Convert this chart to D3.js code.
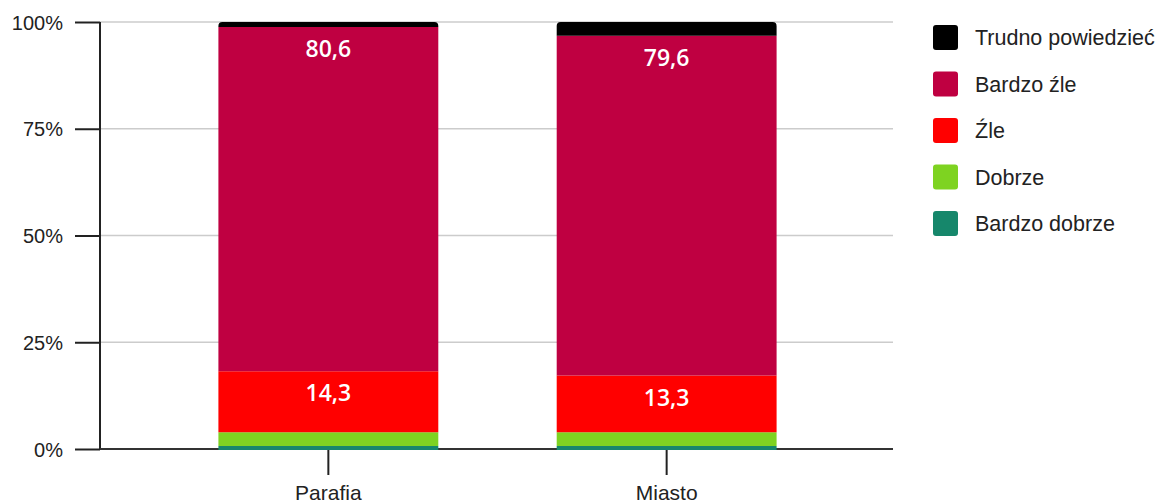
<!DOCTYPE html>
<html>
<head>
<meta charset="utf-8">
<script src="https://cdn.jsdelivr.net/npm/d3@7"></script>
<style>
  html, body { margin: 0; padding: 0; background: #fff; }
  svg { display: block; }
</style>
</head>
<body>
<svg id="chart" width="1158" height="504"></svg>
<script>
// Categories and stacked shares (percent), bottom to top
const categories = ["Parafia", "Miasto"];
const seriesNames = ["Bardzo dobrze", "Dobrze", "Źle", "Bardzo źle", "Trudno powiedzieć"];
const bardzoDobrze = [0.7, 0.7];
const dobrze = [3.2, 3.2];
const zle = [14.3, 13.3];
const bardzoZle = [80.6, 79.6];
const trudno = [1.2, 3.2];
const seriesColors = ["#16876b", "#7ed321", "#ff0000", "#bf0041", "#000000"];
const yTicks = [0, 25, 50, 75, 100];
const labelledSeries = ["Źle", "Bardzo źle"];

const seriesValues = [bardzoDobrze, dobrze, zle, bardzoZle, trudno];
const rows = categories.map((c, i) => {
  const r = { category: c };
  seriesNames.forEach((s, k) => { r[s] = seriesValues[k][i]; });
  return r;
});

const svg = d3.select("#chart");
const plotLeft = 100, plotRight = 895, plotTop = 22, plotBottom = 449;

const x = d3.scaleBand().domain(categories).range([plotLeft, plotRight])
  .paddingInner(0.35).paddingOuter(0.35);
const y = d3.scaleLinear().domain([0, 100]).range([plotBottom, plotTop]);
const color = d3.scaleOrdinal().domain(seriesNames).range(seriesColors);

// gridlines
svg.append("g")
  .selectAll("line")
  .data(yTicks.filter(t => t > 0))
  .join("line")
  .attr("x1", plotLeft).attr("x2", plotRight - 2)
  .attr("y1", d => y(d)).attr("y2", d => y(d))
  .attr("stroke", "#cccccc").attr("stroke-width", 1.6);

// y axis
const yAxis = d3.axisLeft(y).tickValues(yTicks).tickFormat(d => d + "%")
  .tickSize(25).tickPadding(12);
const yg = svg.append("g").attr("transform", `translate(${plotLeft},0)`).call(yAxis);
yg.select(".domain").attr("stroke", "#222").attr("stroke-width", 2)
  .attr("d", `M0,${plotTop}V${plotBottom}`);
yg.selectAll(".tick line").attr("stroke", "#222").attr("stroke-width", 2);
yg.selectAll(".tick text")
  .attr("font-family", "'Liberation Sans', Arial, sans-serif")
  .attr("font-size", 20).attr("fill", "#222")
  .attr("dy", "0.36em");

// x axis
const xAxis = d3.axisBottom(x).tickSize(26).tickPadding(10);
const xg = svg.append("g").attr("transform", `translate(0,${plotBottom})`).call(xAxis);
xg.select(".domain").attr("stroke", "#333").attr("stroke-width", 2)
  .attr("d", `M${plotLeft},0H${plotRight - 2}`);
xg.selectAll(".tick line").attr("stroke", "#222").attr("stroke-width", 2);
xg.selectAll(".tick text")
  .attr("font-family", "'Liberation Sans', Arial, sans-serif")
  .attr("font-size", 21).attr("fill", "#222");

// stacked bars, drawn over the baseline
const stack = d3.stack().keys(seriesNames);
const layers = stack(rows);

function roundedTop(x0, y0, w, h, r) {
  r = Math.min(r, h, w / 2);
  return `M${x0},${y0 + h}V${y0 + r}Q${x0},${y0} ${x0 + r},${y0}H${x0 + w - r}Q${x0 + w},${y0} ${x0 + w},${y0 + r}V${y0 + h}Z`;
}

const layerG = svg.append("g")
  .selectAll("g")
  .data(layers)
  .join("g")
  .attr("fill", d => color(d.key));

layerG.selectAll("path")
  .data(d => d.map(v => ({ key: d.key, v })))
  .join("path")
  .attr("d", d => {
    const x0 = x(d.v.data.category);
    const y0 = y(d.v[1]);
    const h = y(d.v[0]) - y(d.v[1]) + (d.v[0] === 0 ? 1 : 0);
    const isTop = d.key === seriesNames[seriesNames.length - 1];
    return roundedTop(x0, y0, x.bandwidth(), h, isTop ? 4 : 0);
  });

// value labels near the top of each labelled segment
const labelData = [];
layers.filter(l => labelledSeries.includes(l.key)).forEach(l => {
  l.forEach(v => labelData.push({ key: l.key, v }));
});
svg.append("g")
  .selectAll("text")
  .data(labelData)
  .join("text")
  .attr("x", d => x(d.v.data.category) + x.bandwidth() / 2)
  .attr("y", d => y(d.v[1]) + 30)
  .attr("text-anchor", "middle")
  .attr("fill", "#ffffff")
  .attr("font-family", "'Open Sans', sans-serif")
  .attr("font-weight", 600)
  .attr("font-size", 23)
  .text(d => d3.format(".1f")(d.v.data[d.key]).replace(".", ","));

// legend, top entry first
const legendItems = seriesNames.slice().reverse();
const lg = svg.append("g").attr("transform", "translate(933,25)");
const item = lg.selectAll("g")
  .data(legendItems)
  .join("g")
  .attr("transform", (d, i) => `translate(0,${i * 46.5})`);
item.append("rect")
  .attr("width", 25).attr("height", 25).attr("rx", 3)
  .attr("fill", d => color(d));
item.append("text")
  .attr("x", 42).attr("y", 12.5).attr("dy", "0.36em")
  .attr("font-family", "'Liberation Sans', Arial, sans-serif")
  .attr("font-size", 21.5).attr("fill", "#222")
  .text(d => d);
</script>
</body>
</html>
